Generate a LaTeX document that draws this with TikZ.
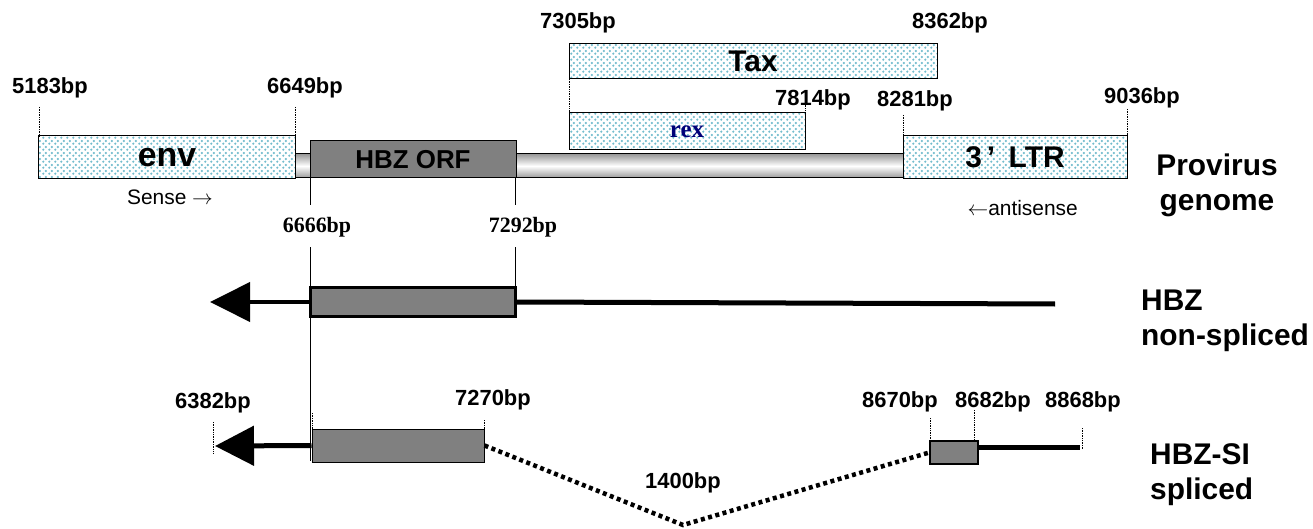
\documentclass[tikz,border=0pt]{standalone}
\usepackage{fontspec}
\setmainfont{Liberation Sans}
\newfontfamily\timesfont{Liberation Serif}
\usetikzlibrary{patterns.meta,arrows.meta}
\definecolor{dotblue}{RGB}{115,188,205}
\definecolor{rexblue}{RGB}{0,0,120}
\def\bpfont{\fontsize{22}{25}\selectfont\bfseries}
\def\guide(#1:#2:#3){\draw[guideline] (#1,#2) -- (#1,#3);}
\tikzdeclarepattern{
  name=bigdots,
  type=uncolored,
  bounding box={(0,0) and (6bp,6bp)},
  tile size={(6bp,6bp)},
  code={\fill (1.5bp,1.5bp) circle (1.4bp); \fill (4.5bp,4.5bp) circle (1.4bp);}
}
\tikzset{
  guideline/.style={densely dotted, line width=0.7bp},
  genebox/.style={draw=black, line width=1bp, pattern={bigdots}, pattern color=dotblue,
    inner sep=0pt, font=\fontsize{34}{38}\selectfont\bfseries},
  orfbox/.style={draw=black, fill=gray, line width=1bp, inner sep=0pt},
  bplabel/.style={font=\bpfont, inner sep=0pt},
  serlabel/.style={font=\timesfont\fontsize{22}{25}\selectfont\bfseries, inner sep=0pt},
  rowlabel/.style={font=\fontsize{30}{35}\selectfont\bfseries, inner sep=0pt},
  thickline/.style={line width=5bp},
}

\begin{document}
\begin{tikzpicture}[x=1bp, y=-1bp]
			%%%%% START %%%%%
			\useasboundingbox (0,0) rectangle (1313,529);
			
			% provirus genome
			\shade[top color=gray!80, bottom color=gray!80, middle color=white] (295,154) rectangle (903,178);
			\draw[line width=1bp] (295,154) rectangle (903,178);
			\node[genebox, minimum width=256bp, minimum height=43bp] (env) at (167,157.5) {env};
			\node[orfbox, minimum width=206bp, minimum height=37bp, font=\fontsize{26}{30}\selectfont\bfseries] (orf) at (413,159.5) {HBZ ORF};
			\node[genebox, minimum width=368bp, minimum height=35bp, font=\fontsize{30}{34}\selectfont\bfseries] (tax) at (753,61.5) {Tax};
			\node[genebox, minimum width=236bp, minimum height=37bp, font=\timesfont\fontsize{25}{28}\selectfont\bfseries, text=rexblue] (rex) at (687,131.5) {rex};
			\node[genebox, minimum width=224bp, minimum height=43bp, font=\fontsize{30}{34}\selectfont\bfseries] (ltr) at (1015,157.5) {3\,’\hspace{0.45em}LTR};
			
			\node[bplabel] (b5183) at (50,88) {5183bp};
			\node[bplabel] (b6649) at (305,88) {6649bp};
			\node[bplabel] (b7305) at (578,23) {7305bp};
			\node[bplabel] (b8362) at (950,23) {8362bp};
			\node[bplabel] (b7814) at (813,100) {7814bp};
			\node[bplabel] (b8281) at (915,101) {8281bp};
			\node[bplabel] (b9036) at (1142,98) {9036bp};
			\guide(39:107:136)
			\guide(295:107:136)
			\guide(569:79:113)
			\guide(805:98:113)
			\guide(903:115:136)
			\guide(1127:109:136)
			
			\node[font=\fontsize{21}{24}\selectfont, inner sep=0pt] (sense) at (170,197) {Sense $\rightarrow$};
			\node[font=\fontsize{21}{24}\selectfont, inner sep=0pt, anchor=east] (anti) at (1078,208) {$\leftarrow$antisense};
			\node[rowlabel, align=center] (provirus) at (1217,185) {Provirus\\genome};
			
			% HBZ non-spliced
			\node[serlabel] (b6666) at (317,227) {6666bp};
			\node[serlabel] (b7292) at (523,227) {7292bp};
			\draw[line width=1bp] (310,178) -- (310,205);
			\draw[line width=1bp] (515,178) -- (515,205);
			\draw[line width=1bp] (310,247) -- (310,461);
			\draw[line width=1bp] (515,247) -- (515,286);
			
			\coordinate (ns-tip) at (210,302);
			\coordinate (ns-end) at (1055,304);
			\node[orfbox, line width=3bp, minimum width=205bp, minimum height=29bp] (ns-box) at (413,302) {};
			\draw[line width=4bp, -{Triangle[length=40bp,width=39bp]}] (ns-box.west) -- (ns-tip);
			\draw[thickline] (ns-box.east) -- (ns-end);
			\node[rowlabel, align=left, anchor=west] (nonspl) at (1141,321) {HBZ\\non-spliced};
			
			% HBZ-SI spliced
			\node[bplabel] (b6382) at (213,403) {6382bp};
			\node[bplabel] (b7270) at (493,400) {7270bp};
			\node[bplabel] (b1400) at (683,483) {1400bp};
			\node[bplabel] (b8670) at (900,402) {8670bp};
			\node[bplabel] (b8682) at (993,402) {8682bp};
			\node[bplabel] (b8868) at (1083,402) {8868bp};
			\guide(213:422:453)
			\guide(312:413:429)
			\guide(484:420:429)
			\guide(930:418:441)
			\guide(974:410:441)
			\guide(1082:428:450)
			
			\coordinate (sp-tip) at (215,446);
			\coordinate (sp-low) at (683,525);
			\coordinate (sp-end) at (1080,447);
			\node[orfbox, minimum width=172bp, minimum height=33bp] (sp-a) at (398,445.5) {};
			\node[orfbox, line width=1.5bp, minimum width=48bp, minimum height=23bp] (sp-b) at (954,452.5) {};
			\draw[thickline, -{Triangle[length=39bp,width=39bp]}] (sp-a.west) -- (sp-tip);
			\draw[thickline] (sp-b.east |- sp-end) -- (sp-end);
			\draw[line width=4.5bp, dash pattern=on 4bp off 3.5bp] (sp-a.east) -- (sp-low) -- (sp-b.west);
			\node[rowlabel, align=left, anchor=west] (spl) at (1150,475) {HBZ-SI\\spliced};
			
			%%%%% END %%%%%
		\end{tikzpicture}
\end{document}
